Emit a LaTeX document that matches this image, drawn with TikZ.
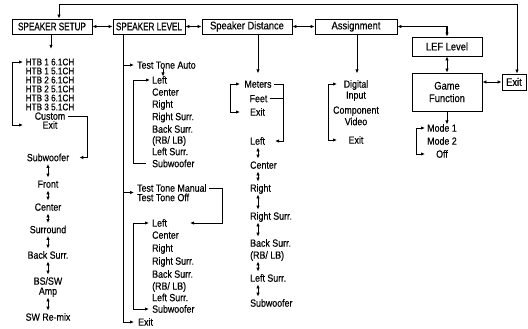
\documentclass[tikz,border=0pt]{standalone}
\usepackage{fontspec}
\setmainfont{Liberation Sans}[FakeStretch=0.85,FakeBold=0.35]
\newfontfamily\capsf{Liberation Sans}[FakeStretch=0.74,FakeBold=0.35]
\usetikzlibrary{arrows.meta}
\begin{document}
\begin{tikzpicture}[x=1pt,y=-1pt,
  >={Latex[length=4pt,width=3.4pt]},
  ln/.style={line width=0.8pt},
  sh/.style={shorten <=2.5pt,shorten >=2.5pt},
  txt/.style={inner sep=0pt,text height=7.4pt,text depth=0pt,font=\fontsize{10.4}{12}\selectfont},
  htb/.style={txt,text height=6.6pt,font=\fontsize{9.6}{11}\selectfont},
  lt/.style={txt,anchor=west},
  bx/.style={draw,line width=0.8pt,inner sep=0pt,align=center,font=\fontsize{11}{12.5}\selectfont},
  capbx/.style={bx,font=\capsf\fontsize{11}{13}\selectfont}]
\useasboundingbox (0,0) rectangle (528,329);

% boxes
\node[capbx,minimum width=80pt,minimum height=15pt] (setup) at (52,26.5) {SPEAKER SETUP};
\node[capbx,minimum width=72pt,minimum height=15pt] (level) at (149,26.5) {SPEAKER LEVEL};
\node[bx,minimum width=90pt,minimum height=15pt] (dist) at (247,26.5) {Speaker Distance};
\node[bx,minimum width=82pt,minimum height=15pt] (assign) at (356,26.5) {Assignment};
\node[bx,minimum width=70pt,minimum height=19pt] (lef) at (447,46.5) {LEF Level};
\node[bx,minimum width=70pt,minimum height=38pt] (game) at (447,92) {Game\\Function};
\node[bx,minimum width=24pt,minimum height=16pt] (exitb) at (514,82) {Exit};

\draw[ln,<->] (setup) -- (level);
\draw[ln,<->] (level) -- (dist);
\draw[ln,<->] (dist) -- (assign);
\draw[line width=1pt,<->] ([xshift=7pt]setup.north) -- ++(0,-14) -| ([xshift=3pt]exitb.north);
\draw[line width=1.4pt,<->] (assign.east) -| (lef.north);
\draw[ln,<->] (lef) -- (game);
\draw[ln,<->] (game.east |- exitb.west) -- (exitb.west);
\draw[ln,->] (game.south) -- ++(0,13);

% game function options
\node[txt] (m1) at (442,128) {Mode 1};
\node[txt] (m2) at (442,141) {Mode 2};
\node[txt] (moff) at (442,154) {Off};
\coordinate (mba) at (425,128);
\coordinate (mbb) at (425,154);
\draw[ln,<->] (mba) -- ++(-9,0) |- (mbb);

% speaker setup column
\draw[ln,->] ([xshift=-1pt]setup.south) -- ++(0,14.5);
\node[htb] (h1) at (50,62) {HTB 1 6.1CH};
\node[htb] (h2) at (50,71) {HTB 1 5.1CH};
\node[htb] (h3) at (50,80) {HTB 2 6.1CH};
\node[htb] (h4) at (50,89) {HTB 2 5.1CH};
\node[htb] (h5) at (50,98) {HTB 3 6.1CH};
\node[htb] (h6) at (50,107) {HTB 3 5.1CH};
\node[txt] (cust) at (50,116) {Custom};
\node[txt] (exa) at (50,125) {Exit};
\coordinate (ha) at (23,62);
\coordinate (hb) at (23,125);
\draw[ln,<->] (ha) -- ++(-11,0) |- (hb);

\node[txt] (sub) at (48,157.5) {Subwoofer};
\node[txt] (front) at (48,184) {Front};
\node[txt] (cent) at (48,207) {Center};
\node[txt] (surr) at (48,229.5) {Surround};
\node[txt] (bsurr) at (48,255) {Back Surr.};
\node[txt] (bssw) at (48,281) {BS/SW};
\node[txt] (amp) at (48,291) {Amp};
\node[txt] (swre) at (48,317) {SW Re-mix};
\coordinate (cturn) at (87,157.5);
\draw[ln,->] ([xshift=3pt]cust.east) -| (cturn) |- ([xshift=10pt]sub.east);
\draw[ln,<->,sh] (sub.south) -- (front.north);
\draw[ln,<->,sh] (front.south) -- (cent.north);
\draw[ln,<->,sh] (cent.south) -- (surr.north);
\draw[ln,<->,sh] (surr.south) -- (bsurr.north);
\draw[ln,<->,sh] (bsurr.south) -- (bssw.north);
\draw[ln,<->,sh] (amp.south) -- (swre.north);

% speaker level column
\node[lt] (tta) at (137,65) {Test Tone Auto};
\node[lt] (l1l) at (152,80) {Left};
\node[lt] (l1c) at (152,92) {Center};
\node[lt] (l1r) at (152,104) {Right};
\node[lt] (l1rs) at (152,116.5) {Right Surr.};
\node[lt] (l1bs) at (152,129) {Back Surr.};
\node[lt] (l1rb) at (152,140) {(RB/ LB)};
\node[lt] (l1ls) at (152,151.5) {Left Surr.};
\node[lt] (l1sw) at (152,163.5) {Subwoofer};
\node[lt] (ttm) at (137,188) {Test Tone Manual};
\node[lt] (tto) at (137,197.5) {Test Tone Off};
\node[lt] (l2l) at (152,223) {Left};
\node[lt] (l2c) at (152,235) {Center};
\node[lt] (l2r) at (152,248) {Right};
\node[lt] (l2rs) at (152,261) {Right Surr.};
\node[lt] (l2bs) at (152,274) {Back Surr.};
\node[lt] (l2rb) at (152,286) {(RB/ LB)};
\node[lt] (l2ls) at (152,297.5) {Left Surr.};
\node[lt] (l2sw) at (152,309) {Subwoofer};
\node[lt] (exl) at (138,322) {Exit};

\coordinate (exlA) at (134,322);
\draw[ln,->] ([xshift=-26pt]level.south) |- (exlA);
\coordinate (tta0) at (123,65);
\draw[ln,->] (tta0) -- ([xshift=-3pt]tta.west);
\coordinate (ttaD) at (163,69.5);
\draw[ln,->] (ttaD) -- ++(0,7);
\coordinate (b1a) at (150,80);
\coordinate (b1b) at (146,163.5);
\draw[ln,->] (b1b) -- ++(-13,0) |- (b1a);
\coordinate (ttm0) at (123,192.5);
\coordinate (ttmA) at (134,192.5);
\draw[ln,->] (ttm0) -- (ttmA);
\coordinate (mturn) at (222,223);
\coordinate (l2A) at (190,223);
\draw[ln,->] ([xshift=2pt]ttm.east) -| (mturn) |- (l2A);
\coordinate (b2a) at (149,223);
\coordinate (b2b) at (149,309);
\draw[ln,<->] (b2a) -- ++(-16,0) |- (b2b);

% speaker distance column
\draw[ln,->] ([xshift=11pt]dist.south) -- ++(0,39);
\node[txt] (met) at (258,84) {Meters};
\node[txt] (feet) at (258.5,98.5) {Feet};
\node[txt] (exd) at (257.5,112) {Exit};
\coordinate (dturn) at (283,141);
\coordinate (dlA) at (275,141);
\draw[ln,->] ([xshift=2.5pt]met.east) -| (dturn) |- (dlA);
\draw[ln] ([xshift=2pt]feet.east) -- (feet.east -| dturn);
\coordinate (dba) at (240,84);
\coordinate (dbb) at (240,112);
\draw[ln,<->] (dba) -- ++(-10,0) |- (dbb);

\node[lt] (dl) at (250,141) {Left};
\node[lt] (dc) at (250,165) {Center};
\node[lt] (dr) at (250,188) {Right};
\node[lt] (drs) at (250,216) {Right Surr.};
\node[lt] (dbs) at (250,243) {Back Surr.};
\node[lt] (drb) at (250,255) {(RB/ LB)};
\node[lt] (dls) at (250,278) {Left Surr.};
\node[lt] (dsw) at (250,303) {Subwoofer};
\coordinate (dax) at (258,0);
\draw[ln,<->,sh] (dl.south -| dax) -- (dc.north -| dax);
\draw[ln,<->,sh] (dc.south -| dax) -- (dr.north -| dax);
\draw[ln,<->,sh] (dr.south -| dax) -- (drs.north -| dax);
\draw[ln,<->,sh] (drs.south -| dax) -- (dbs.north -| dax);
\draw[ln,<->,sh] (drb.south -| dax) -- (dls.north -| dax);
\draw[ln,<->,sh] (dls.south -| dax) -- (dsw.north -| dax);

% assignment column
\draw[ln,->] ([xshift=1pt]assign.south) -- ++(0,39);
\node[txt] (dig) at (356,84) {Digital};
\node[txt] (inp) at (356,95) {Input};
\node[txt] (comp) at (356,110) {Component};
\node[txt] (vid) at (356,121.5) {Video};
\node[txt] (exs) at (356,140) {Exit};
\coordinate (aba) at (337,84);
\coordinate (abb) at (337,140);
\draw[ln,<->] (aba) -- ++(-9,0) |- (abb);
\end{tikzpicture}
\end{document}
